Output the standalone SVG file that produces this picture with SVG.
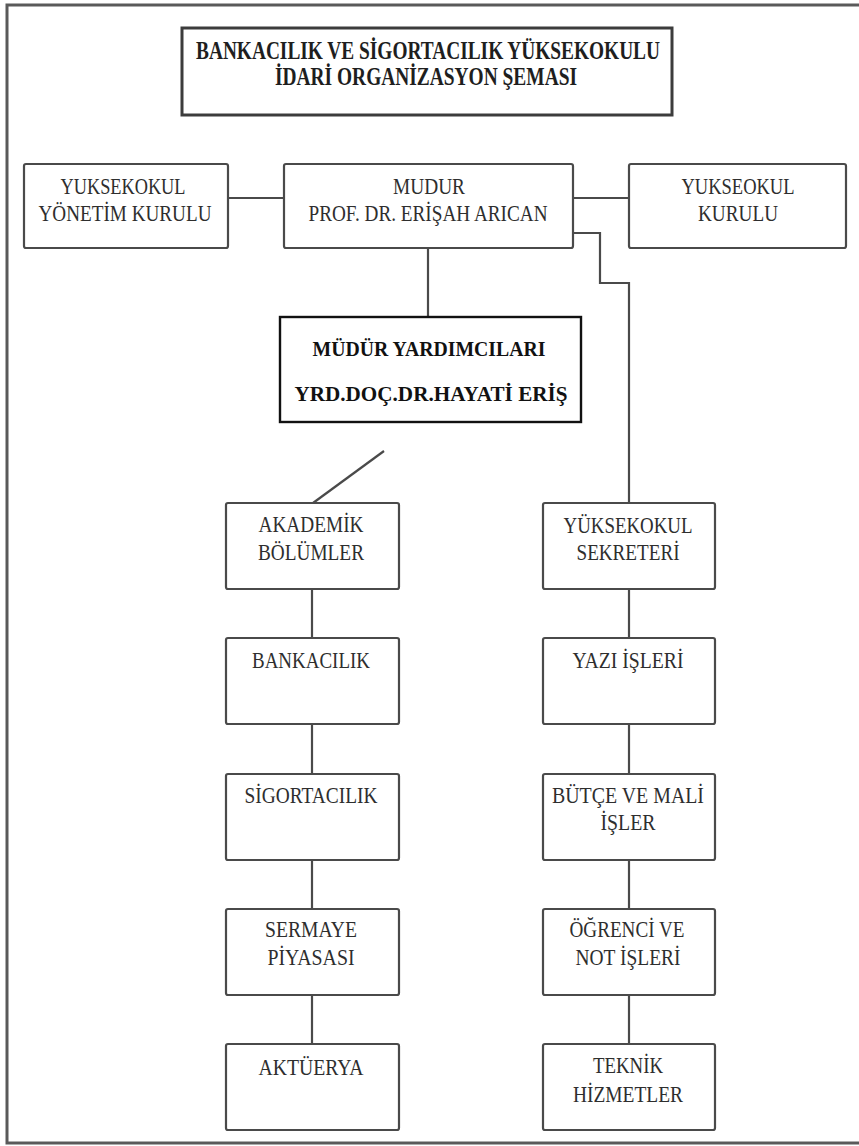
<svg xmlns="http://www.w3.org/2000/svg" width="859" height="1146" viewBox="0 0 859 1146">
<style>
.frame{fill:none;stroke:#5a5a5a;stroke-width:3}
.box{fill:#fff;stroke:#4a4a4a;stroke-width:2.2}
.tbox{fill:#fff;stroke:#3c3c3c;stroke-width:3}
.mbox{fill:#fff;stroke:#111;stroke-width:2.4}
.conn{fill:none;stroke:#4a4a4a;stroke-width:2.2}
.t{font-family:"Liberation Serif","Times New Roman",serif;font-size:22.5px;fill:#2e2e2e;text-anchor:middle}
.tb{font-family:"Liberation Serif","Times New Roman",serif;font-size:25px;font-weight:bold;fill:#1e1e1e;text-anchor:middle}
.mb{font-family:"Liberation Serif","Times New Roman",serif;font-size:22px;font-weight:bold;fill:#111;text-anchor:middle}
</style>
<rect width="859" height="1146" fill="#fff"/>
<rect class="frame" x="7" y="5" width="860" height="1138"/>

<g id="connectors">
<line class="conn" x1="228" y1="198" x2="284" y2="198"/>
<line class="conn" x1="573" y1="198" x2="629" y2="198"/>
<line class="conn" x1="428" y1="248" x2="428" y2="317"/>
<polyline class="conn" points="573,233 600,233 600,283 629,283 629,503"/>
<line class="conn" x1="384" y1="451" x2="313" y2="503"/>
<line class="conn" x1="312" y1="589" x2="312" y2="638"/>
<line class="conn" x1="312" y1="724" x2="312" y2="774"/>
<line class="conn" x1="312" y1="860" x2="312" y2="909"/>
<line class="conn" x1="312" y1="995" x2="312" y2="1044"/>
<line class="conn" x1="629" y1="589" x2="629" y2="638"/>
<line class="conn" x1="629" y1="724" x2="629" y2="774"/>
<line class="conn" x1="629" y1="860" x2="629" y2="909"/>
<line class="conn" x1="629" y1="995" x2="629" y2="1044"/>
</g>

<g id="title">
<rect class="tbox" x="182" y="28" width="490" height="87"/>
<text class="tb" x="428" y="59" textLength="464" lengthAdjust="spacingAndGlyphs">BANKACILIK VE SİGORTACILIK YÜKSEKOKULU</text>
<text class="tb" x="426" y="85" textLength="302" lengthAdjust="spacingAndGlyphs">İDARİ ORGANİZASYON ŞEMASI</text>
</g>

<g id="yonetim-kurulu">
<rect class="box" x="24" y="164" width="204" height="84" rx="2"/>
<text class="t" x="123" y="194" textLength="125" lengthAdjust="spacingAndGlyphs">YUKSEKOKUL</text>
<text class="t" x="125" y="221" textLength="173" lengthAdjust="spacingAndGlyphs">YÖNETİM KURULU</text>
</g>

<g id="mudur">
<rect class="box" x="284" y="164" width="289" height="84" rx="2"/>
<text class="t" x="429" y="194" textLength="72" lengthAdjust="spacingAndGlyphs">MUDUR</text>
<text class="t" x="428" y="221" textLength="239" lengthAdjust="spacingAndGlyphs">PROF. DR. ERİŞAH ARICAN</text>
</g>

<g id="yuksekokul-kurulu">
<rect class="box" x="629" y="164" width="217" height="84" rx="2"/>
<text class="t" x="738" y="194" textLength="113" lengthAdjust="spacingAndGlyphs">YUKSEOKUL</text>
<text class="t" x="738" y="221" textLength="80" lengthAdjust="spacingAndGlyphs">KURULU</text>
</g>

<g id="mudur-yardimcilari">
<rect class="mbox" x="280" y="317" width="301" height="105"/>
<text class="mb" x="429" y="356" textLength="233" lengthAdjust="spacingAndGlyphs">MÜDÜR YARDIMCILARI</text>
<text class="mb" x="431" y="401" textLength="273" lengthAdjust="spacingAndGlyphs">YRD.DOÇ.DR.HAYATİ ERİŞ</text>
</g>

<g id="akademik-bolumler">
<rect class="box" x="226" y="503" width="173" height="86" rx="2"/>
<text class="t" x="311" y="532" textLength="105" lengthAdjust="spacingAndGlyphs">AKADEMİK</text>
<text class="t" x="311" y="560" textLength="106" lengthAdjust="spacingAndGlyphs">BÖLÜMLER</text>
</g>
<g id="bankacilik">
<rect class="box" x="226" y="638" width="173" height="86" rx="2"/>
<text class="t" x="311" y="668" textLength="118" lengthAdjust="spacingAndGlyphs">BANKACILIK</text>
</g>
<g id="sigortacilik">
<rect class="box" x="226" y="774" width="173" height="86" rx="2"/>
<text class="t" x="311" y="803" textLength="133" lengthAdjust="spacingAndGlyphs">SİGORTACILIK</text>
</g>
<g id="sermaye-piyasasi">
<rect class="box" x="226" y="909" width="173" height="86" rx="2"/>
<text class="t" x="311" y="937" textLength="92" lengthAdjust="spacingAndGlyphs">SERMAYE</text>
<text class="t" x="311" y="965" textLength="87" lengthAdjust="spacingAndGlyphs">PİYASASI</text>
</g>
<g id="akturerya">
<rect class="box" x="226" y="1044" width="173" height="86" rx="2"/>
<text class="t" x="311" y="1075" textLength="105" lengthAdjust="spacingAndGlyphs">AKTÜERYA</text>
</g>

<g id="yuksekokul-sekreteri">
<rect class="box" x="543" y="503" width="172" height="86" rx="2"/>
<text class="t" x="628" y="533" textLength="129" lengthAdjust="spacingAndGlyphs">YÜKSEKOKUL</text>
<text class="t" x="628" y="560" textLength="103" lengthAdjust="spacingAndGlyphs">SEKRETERİ</text>
</g>
<g id="yazi-isleri">
<rect class="box" x="543" y="638" width="172" height="86" rx="2"/>
<text class="t" x="628" y="668" textLength="111" lengthAdjust="spacingAndGlyphs">YAZI İŞLERİ</text>
</g>
<g id="butce-mali-isler">
<rect class="box" x="543" y="774" width="172" height="86" rx="2"/>
<text class="t" x="628" y="803" textLength="152" lengthAdjust="spacingAndGlyphs">BÜTÇE VE MALİ</text>
<text class="t" x="628" y="830" textLength="55" lengthAdjust="spacingAndGlyphs">İŞLER</text>
</g>
<g id="ogrenci-not-isleri">
<rect class="box" x="543" y="909" width="172" height="86" rx="2"/>
<text class="t" x="627" y="937" textLength="115" lengthAdjust="spacingAndGlyphs">ÖĞRENCİ VE</text>
<text class="t" x="628" y="965" textLength="105" lengthAdjust="spacingAndGlyphs">NOT İŞLERİ</text>
</g>
<g id="teknik-hizmetler">
<rect class="box" x="543" y="1044" width="172" height="86" rx="2"/>
<text class="t" x="628" y="1073" textLength="70" lengthAdjust="spacingAndGlyphs">TEKNİK</text>
<text class="t" x="628" y="1102" textLength="110" lengthAdjust="spacingAndGlyphs">HİZMETLER</text>
</g>
</svg>
